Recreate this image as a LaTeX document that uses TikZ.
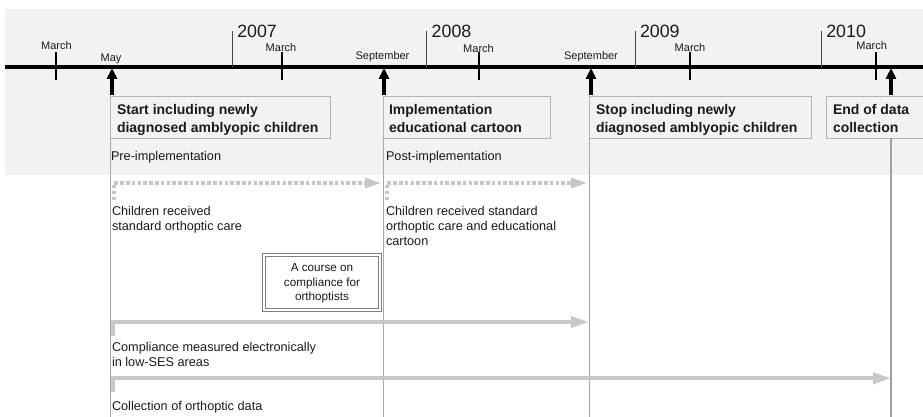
\documentclass[tikz,border=0pt]{standalone}
\usepackage{fontspec}
\setmainfont{Liberation Sans}
\usetikzlibrary{arrows.meta}
\definecolor{band}{HTML}{F2F2F2}
\definecolor{boxline}{HTML}{B4B4B4}
\definecolor{guide}{HTML}{A8A8A8}
\definecolor{flow}{HTML}{C8C8C8}
\definecolor{flowdash}{HTML}{C6C6C6}
\definecolor{ink}{HTML}{1A1A1A}
\definecolor{frame}{HTML}{808080}

\begin{document}
\begin{tikzpicture}[x=1pt,y=-1pt,
  every node/.style={inner sep=0pt, outer sep=0pt, text=ink},
  month/.style={font=\fontsize{11}{13}\selectfont, anchor=base},
  yearlbl/.style={font=\fontsize{17.8}{20}\selectfont, anchor=base west},
  body/.style={font=\fontsize{12.7}{15}\selectfont, anchor=base west},
  boxtext/.style={font=\bfseries\fontsize{14}{17}\selectfont, anchor=base west},
  coursetext/.style={font=\fontsize{11.7}{14.5}\selectfont, anchor=base},
  eventbox/.style={draw=boxline, fill=band, line width=1pt, anchor=north west, minimum height=41pt},
  guideline/.style={draw=guide, line width=1pt},
  tick/.style={draw=black, line width=2.5pt},
  yearline/.style={draw=ink!80, line width=0.8pt},
  eventarrow/.style={draw=black, line width=3.3pt, -{Triangle[length=11pt,width=10pt]}},
  flowarrow/.style={draw=flow, line width=4pt, -{Triangle[length=18pt,width=11pt]}},
  dasharrow/.style={draw=flowdash, line width=3.2pt, dash pattern=on 3.5pt off 2.3pt,
    -{Triangle[length=16pt,width=10pt]}},
  coursebox/.style={draw=frame, double=white, double distance=2pt, line width=0.8pt,
    fill=white, minimum width=116.4pt, minimum height=55.4pt}
]
\useasboundingbox (0,0) rectangle (923,417);

% shaded header band
\fill[band] (5,9) rectangle (923,175);

% event boxes
\node[eventbox, minimum width=220pt] (start) at (110,97) {};
\node[eventbox, minimum width=167pt] (cartoon) at (383,97) {};
\node[eventbox, minimum width=222pt] (stop) at (589,97) {};
\node[eventbox, minimum width=97pt] (end) at (826,97) {};

% guide lines dropping from the events
\coordinate (g1) at (110,417);
\coordinate (g2) at (383,417);
\coordinate (g3) at (589,417);
\coordinate (g4) at (891,417);
\coordinate (g4top) at (891,138);
\draw[guideline] (start.south west) -- (g1);
\draw[guideline] (cartoon.south west) -- (g2);
\draw[guideline] (stop.south west) -- (g3);
\draw[guideline, line width=1.5pt, draw=guide!95!black] (g4top) -- (g4);

\node[boxtext] (t-start1) at (117,115) {Start including newly};
\node[boxtext] (t-start2) at (117,132) {diagnosed amblyopic children};
\node[boxtext] (t-cartoon1) at (389,115) {Implementation};
\node[boxtext] (t-cartoon2) at (389,132) {educational cartoon};
\node[boxtext] (t-stop1) at (596,115) {Stop including newly};
\node[boxtext] (t-stop2) at (596,132) {diagnosed amblyopic children};
\node[boxtext] (t-end1) at (833,115) {End of data};
\node[boxtext] (t-end2) at (833,132) {collection};

% time axis
\coordinate (tl0) at (5,67);
\coordinate (tl1) at (923,67);
\draw[line width=3.5pt] (tl0) -- (tl1);

% month ticks
\foreach \x/\n in {56/m1, 282/m2, 479/m3, 690/m4, 876/m5}{
  \coordinate (\n-a) at (\x,52);
  \coordinate (\n-b) at (\x,80);
  \draw[tick] (\n-a) -- (\n-b);
}

% year boundaries
\foreach \x/\y in {232.3/2007, 426.7/2008, 635/2009, 821.3/2010}{
  \coordinate (y\y-a) at (\x,31);
  \coordinate (y\y-b) at (\x,67);
  \draw[yearline] (y\y-a) -- (y\y-b);
  \node[yearlbl] (lbl\y) at (\x+5,37.3) {\y};
}

% month labels
\node[month] (lm1) at (56.5,50) {March};
\node[month] (lmay) at (111,62) {May};
\node[month] (lm2) at (281,51.7) {March};
\node[month] (lsep1) at (382.5,60) {September};
\node[month] (lm3) at (478.5,52.3) {March};
\node[month] (lsep2) at (591,60) {September};
\node[month] (lm4) at (690,52) {March};
\node[month] (lm5) at (871.7,49.3) {March};

% event arrows onto the axis
\foreach \x/\n in {112/e1, 384/e2, 591/e3, 891/e4}{
  \coordinate (\n-foot) at (\x,95);
  \coordinate (\n-tip) at (\x,68);
  \draw[eventarrow] (\n-foot) -- (\n-tip);
}

% phase labels
\node[body] (pre) at (111,160.7) {Pre-implementation};
\node[body] (post) at (386,160.7) {Post-implementation};

% care phases
\coordinate (c1a) at (114,200);
\coordinate (c1b) at (114,183);
\coordinate (c1c) at (381,183);
\draw[dasharrow] (c1a) -- (c1b) -- (c1c);
\coordinate (c2a) at (387,200);
\coordinate (c2b) at (387,183);
\coordinate (c2c) at (587,183);
\draw[dasharrow] (c2a) -- (c2b) -- (c2c);

\node[body] (care1a) at (112,215) {Children received};
\node[body] (care1b) at (112,230) {standard orthoptic care};
\node[body] (care2a) at (386,215) {Children received standard};
\node[body] (care2b) at (386,230) {orthoptic care and educational};
\node[body] (care2c) at (386,245) {cartoon};

% training course
\node[coursebox] (course) at (322,282.5) {};
\node[coursetext] (course1) at (322,271.7) {A course on};
\node[coursetext] (course2) at (322,286.5) {compliance for};
\node[coursetext] (course3) at (322,300.7) {orthoptists};

% measurement periods
\coordinate (f1a) at (113,336);
\coordinate (f1b) at (113,322);
\coordinate (f1c) at (589,322);
\draw[flowarrow] (f1a) -- (f1b) -- (f1c);
\node[body] (comp1) at (112,351.7) {Compliance measured electronically};
\node[body] (comp2) at (112,366.7) {in low-SES areas};

\coordinate (f2a) at (113,392);
\coordinate (f2b) at (113,378.3);
\coordinate (f2c) at (891,378.3);
\draw[flowarrow] (f2a) -- (f2b) -- (f2c);
\node[body] (coll) at (112,410) {Collection of orthoptic data};
\end{tikzpicture}
\end{document}
